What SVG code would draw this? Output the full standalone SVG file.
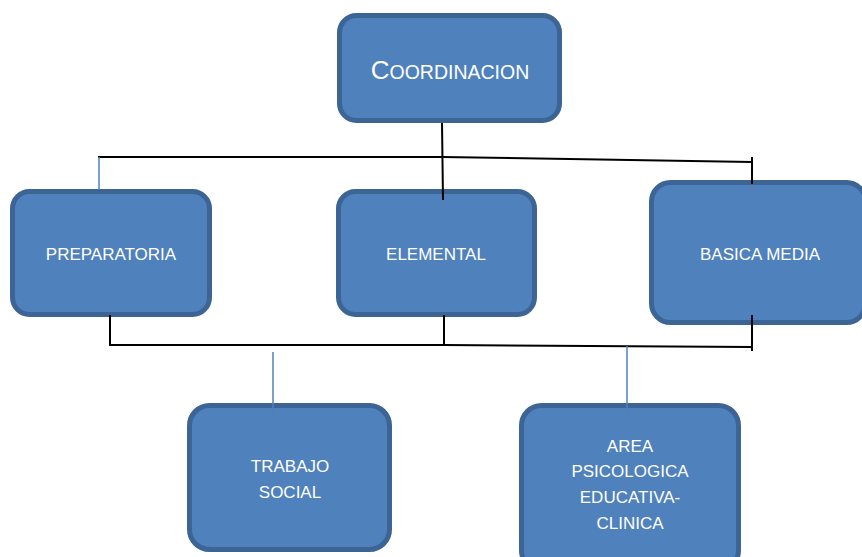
<svg xmlns="http://www.w3.org/2000/svg" width="862" height="557" viewBox="0 0 862 557">
<style>
.box{fill:#4F81BD;stroke:#3C6494;stroke-width:5}
.t{font-family:"Liberation Sans",Arial,sans-serif;font-size:17px;fill:#FFFFFF;text-anchor:middle}
.k{stroke:#000000;stroke-width:2;fill:none}
.b{stroke:#4F81BD;stroke-width:1.5;fill:none}
</style>
<rect width="862" height="557" fill="#FFFFFF"/>
<g id="coordinacion">
<rect class="box" x="339.5" y="15.5" width="220" height="105" rx="17"/>
<text class="t" x="450" y="79"><tspan font-size="26">C</tspan><tspan font-size="19.5">OORDINACION</tspan></text>
</g>
<g id="preparatoria">
<rect class="box" x="12.5" y="191.5" width="197" height="123" rx="17"/>
<text class="t" x="111" y="260">PREPARATORIA</text>
</g>
<g id="elemental">
<rect class="box" x="338.5" y="191.5" width="196" height="123" rx="17"/>
<text class="t" x="436" y="260">ELEMENTAL</text>
</g>
<g id="basica-media">
<rect class="box" x="651.5" y="182.5" width="214" height="140" rx="19"/>
<text class="t" x="760" y="260">BASICA MEDIA</text>
</g>
<g id="trabajo-social">
<rect class="box" x="189.5" y="405.5" width="200" height="144" rx="20"/>
<text class="t" x="290" y="472">TRABAJO</text>
<text class="t" x="290" y="498">SOCIAL</text>
</g>
<g id="area-psicologica">
<rect class="box" x="521.5" y="405.5" width="217" height="165" rx="20"/>
<text class="t" x="630" y="452">AREA</text>
<text class="t" x="630" y="477">PSICOLOGICA</text>
<text class="t" x="630" y="503">EDUCATIVA-</text>
<text class="t" x="630" y="529">CLINICA</text>
</g>
<g id="connectors">
<path class="k" d="M442 123 L443 200"/>
<path class="k" d="M98 157 L442 157 L752 162"/>
<path class="k" d="M752 157 L752 184"/>
<path class="b" d="M99 157 L99 190"/>
<path class="k" d="M110 315 L110 345 L444 345 L752 347"/>
<path class="k" d="M444 315 L444 345"/>
<path class="k" d="M752 315 L752 351"/>
<path class="b" d="M273 352 L273 415"/>
<path class="b" d="M627 346 L627 415"/>
</g>
</svg>
